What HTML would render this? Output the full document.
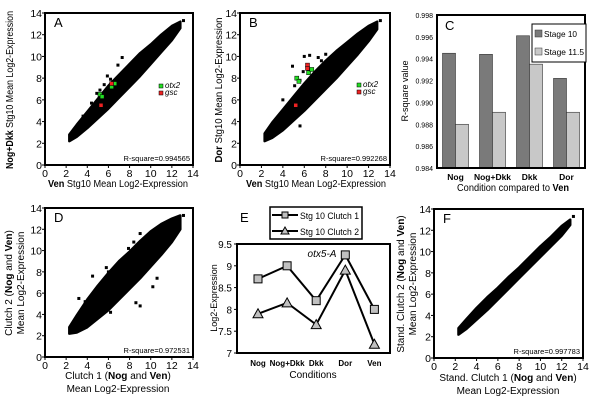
<!DOCTYPE html>
<html><head><meta charset="utf-8">
<style>
html,body{margin:0;padding:0;background:#fff;}
svg{display:block;font-family:"Liberation Sans",Arial,sans-serif;}
</style></head>
<body>
<svg id="fig" width="600" height="410" viewBox="0 0 600 410" xmlns="http://www.w3.org/2000/svg"></svg>
<script>
// ---------- DATA ----------
const aBandX=[2.3,3,4,5,6,7,8,9,10,11,12,12.8];
const aBandLo=[2.2,2.6,3.4,4.3,5.2,6.2,7.2,8.2,9.3,10.4,11.5,12.6];
const aBandHi=[2.8,3.7,4.9,6.1,7.3,8.3,9.3,10.3,11.1,12.0,12.8,13.2];
const aOutX=[3.6,5.2,5.9,6.2,7.3,4.9,6.9,13.1,4.4,5.6];
const aOutY=[4.5,6.9,8.2,7.9,9.9,6.6,9.2,13.3,5.7,7.4];
const aGreenX=[5.2,5.4,6.3,6.6];const aGreenY=[6.5,6.3,7.2,7.5];
const aRedX=[6.3,5.3];const aRedY=[7.5,5.5];

const bBandX=[2.3,3,4,5,6,7,8,9,10,11,12,12.8];
const bBandLo=[2.2,2.5,3.2,4.1,5.0,6.0,7.0,8.0,9.1,10.2,11.4,12.5];
const bBandHi=[2.9,3.9,5.1,6.3,7.5,8.6,9.6,10.5,11.3,12.1,12.8,13.2];
const bOutX=[4.9,5.6,6.0,6.5,7.3,8.0,9.4,10.3,11.0,4.4,5.6,5.1,6.9,8.2,5.9,13.1,4.0,7.6];
const bOutY=[9.1,7.8,10.0,10.1,9.9,10.2,10.4,10.0,10.9,5.0,3.6,7.3,6.2,7.7,8.6,13.3,6.0,9.6];
const bGreenX=[5.3,5.5,6.4,6.7];const bGreenY=[8.0,7.7,8.5,8.8];
const bRedX=[6.3,6.3,5.2];const bRedY=[9.2,8.9,5.5];

const dBandX=[2.3,3,4,5,6,7,8,9,10,11,12,12.8];
const dBandLo=[2.2,2.3,2.8,3.6,4.4,5.4,6.4,7.4,8.5,9.6,10.8,12.0];
const dBandHi=[2.8,3.9,5.4,6.7,7.9,9.0,9.9,10.9,11.8,12.5,13.0,13.3];
const dOutX=[4.5,5.8,6.0,8.4,9.0,4.7,6.2,8.6,9.0,10.2,13.1,3.2,7.9,3.8,10.6];
const dOutY=[7.6,8.4,8.0,10.8,11.6,3.8,4.2,5.1,4.8,6.6,13.3,5.5,10.2,5.2,7.4];

const fBandX=[2.3,3,4,5,6,7,8,9,10,11,12,12.8];
const fBandLo=[2.2,2.7,3.6,4.5,5.5,6.5,7.5,8.5,9.5,10.5,11.5,12.5];
const fBandHi=[2.8,3.6,4.7,5.7,6.6,7.6,8.5,9.5,10.5,11.4,12.4,13.0];
const fOutX=[13.1];const fOutY=[13.3];

const xTicks=[0,2,4,6,8,10,12,14];
const yTicks=[0,2,4,6,8,10,12,14];

const cCats=["Nog","Nog+Dkk","Dkk","Dor"];
const cStage10=[0.9945,0.9944,0.9961,0.9922];
const cStage115=[0.9880,0.9891,0.9935,0.9891];
const cTicks=[0.984,0.986,0.988,0.990,0.992,0.994,0.996,0.998];
const cTickLabels=["0.984","0.986","0.988","0.990","0.992","0.994","0.996","0.998"];

const eCats=["Nog","Nog+Dkk","Dkk","Dor","Ven"];
const eClutch1=[8.7,9.0,8.2,9.25,8.0];
const eClutch2=[7.9,8.15,7.65,8.9,7.2];
const eTicks=[7,7.5,8,8.5,9,9.5];
const eTickLabels=["7","7.5","8","8.5","9","9.5"];

// ---------- DRAW ----------
const NS="http://www.w3.org/2000/svg";
const svg=document.getElementById('fig');
function mk(tag,attrs,parent,text){const e=document.createElementNS(NS,tag);for(const k in attrs)e.setAttribute(k,attrs[k]);if(text!==undefined)e.textContent=text;(parent||svg).appendChild(e);return e;}

function scatter(name,box,bandX,bandLo,bandHi,outX,outY,gX,gY,rX,rY,rsq,letter,legend){
  const g=mk('g',{});
  
  
  const sx=v=>box.x0+(box.x1-box.x0)*v/14, sy=v=>box.y0-(box.y0-box.y1)*v/14;
  let pts=[];
  for(let i=0;i<bandX.length;i++)pts.push(sx(bandX[i])+','+sy(bandLo[i]));
  for(let i=bandX.length-1;i>=0;i--)pts.push(sx(bandX[i])+','+sy(bandHi[i]));
  const band=mk('polygon',{points:pts.join(' '),fill:'#000',stroke:'#000','stroke-width':2.5,'stroke-linejoin':'round'},g);
  
  
  for(let i=0;i<outX.length;i++){
    const r=mk('rect',{x:sx(outX[i])-1.5,y:sy(outY[i])-1.5,width:3,height:3,fill:'#000'},g);
    
    
  }
  if(gX){for(let i=0;i<gX.length;i++){
    const r=mk('rect',{x:sx(gX[i])-2,y:sy(gY[i])-2,width:4,height:4,fill:'#22dd22',stroke:'#000','stroke-width':0.5},g);
    
    
  }}
  if(rX){for(let i=0;i<rX.length;i++){
    const r=mk('rect',{x:sx(rX[i])-2,y:sy(rY[i])-2,width:4,height:4,fill:'#ee2222',stroke:'#000','stroke-width':0.5},g);
    
    
  }}
  const fr=mk('rect',{x:box.x0,y:box.y1,width:box.x1-box.x0,height:box.y0-box.y1,fill:'none',stroke:'#000','stroke-width':2},g);
  
  
  xTicks.forEach((t)=>{
    mk('line',{x1:sx(t),x2:sx(t),y1:box.y0,y2:box.y0+3,stroke:'#000'},g);
    const tx=mk('text',{x:sx(t),y:box.y0+12,'font-size':10.5,'text-anchor':'middle'},g,String(t));
    
    
  });
  yTicks.forEach((t)=>{
    mk('line',{x1:box.x0-3,x2:box.x0,y1:sy(t),y2:sy(t),stroke:'#000'},g);
    const tx=mk('text',{x:box.x0-3,y:sy(t)+4,'font-size':10.5,'text-anchor':'end'},g,String(t));
    
    
  });
  const rs=mk('text',{x:box.x1-3,y:box.y0-4,'font-size':7.5,'text-anchor':'end'},g,'R-square='+rsq);
  
  
  const lt=mk('text',{x:box.x0+9,y:box.y1+14,'font-size':13},g,letter);
  
  
  if(legend){
    const lg=mk('g',{},g);
    
    
    mk('rect',{x:legend[0],y:legend[1]-4,width:4,height:4,fill:'#22dd22',stroke:'#000','stroke-width':0.5},lg);
    mk('text',{x:legend[0]+6,y:legend[1],'font-size':8,'font-style':'italic'},lg,'otx2');
    mk('rect',{x:legend[0],y:legend[1]+3,width:4,height:4,fill:'#ee2222',stroke:'#000','stroke-width':0.5},lg);
    mk('text',{x:legend[0]+6,y:legend[1]+7,'font-size':8,'font-style':'italic'},lg,'gsc');
  }
  return g;
}
function rotText(x,y,lines,name,size,len){
  const a={transform:`translate(${x},${y}) rotate(-90)`,'font-size':size||10,'text-anchor':'middle'};
  if(len){a.textLength=len;a.lengthAdjust='spacingAndGlyphs';}
  const t=mk('text',a);
  
  
  t.innerHTML=lines;return t;
}
function hText(x,y,html,name,size,len){
  const a={x:x,y:y,'font-size':size||10,'text-anchor':'middle'};
  if(len){a.textLength=len;a.lengthAdjust='spacingAndGlyphs';}
  const t=mk('text',a);
  
  
  t.innerHTML=html;return t;
}

// Panel A
scatter('panel-a-scatter',{x0:45,x1:193,y0:165,y1:13},aBandX,aBandLo,aBandHi,aOutX,aOutY,aGreenX,aGreenY,aRedX,aRedY,'0.994565','A',[159,88]);
rotText(13,90,'<tspan font-weight="bold">Nog+Dkk</tspan> Stg10 Mean Log2-Expression','panel-a-y-title',10,158);
hText(118,187,'<tspan font-weight="bold">Ven</tspan> Stg10 Mean Log2-Expression','panel-a-x-title',10,140);
// Panel B
scatter('panel-b-scatter',{x0:240,x1:390,y0:165,y1:13},bBandX,bBandLo,bBandHi,bOutX,bOutY,bGreenX,bGreenY,bRedX,bRedY,'0.992268','B',[357,87]);
rotText(222,90,'<tspan font-weight="bold">Dor</tspan> Stg10 Mean Log2-Expression','panel-b-y-title',10,145);
hText(316,187,'<tspan font-weight="bold">Ven</tspan> Stg10 Mean Log2-Expression','panel-b-x-title',10,140);
// Panel D
scatter('panel-d-scatter',{x0:45,x1:193,y0:357,y1:208},dBandX,dBandLo,dBandHi,dOutX,dOutY,null,null,null,null,'0.972531','D',null);
rotText(12,283,'Clutch 2 (<tspan font-weight="bold">Nog</tspan> and <tspan font-weight="bold">Ven</tspan>)','panel-d-y-title',10);
rotText(24,283,'Mean Log2-Expression','panel-d-y-title-2',10);
hText(118,379,'Clutch 1 (<tspan font-weight="bold">Nog</tspan> and <tspan font-weight="bold">Ven</tspan>)','panel-d-x-title',10);
hText(118,392,'Mean Log2-Expression','panel-d-x-title-2',10);
// Panel F
scatter('panel-f-scatter',{x0:434,x1:583,y0:358,y1:209},fBandX,fBandLo,fBandHi,fOutX,fOutY,null,null,null,null,'0.997783','F',null);
rotText(404,284,'Stand. Clutch 2 (<tspan font-weight="bold">Nog</tspan> and <tspan font-weight="bold">Ven</tspan>)','panel-f-y-title',10);
rotText(416,284,'Mean Log2-Expression','panel-f-y-title-2',10);
hText(508,381,'Stand. Clutch 1 (<tspan font-weight="bold">Nog</tspan> and <tspan font-weight="bold">Ven</tspan>)','panel-f-x-title',10);
hText(508,394,'Mean Log2-Expression','panel-f-x-title-2',10);

// Panel C bars
(function(){
  const g=mk('g',{});
  
  
  const x0=437,x1=585,yTop=15,yBot=168,vMin=0.984,vMax=0.998;
  const sy=v=>yBot-(yBot-yTop)*(v-vMin)/(vMax-vMin);
  const gw=(x1-x0)/cCats.length, bw=13;
  cCats.forEach((c,i)=>{
    const cx=x0+gw*(i+0.5);
    const b1=mk('rect',{x:cx-bw,y:sy(cStage10[i]),width:bw,height:yBot-sy(cStage10[i]),fill:'#7a7a7a',stroke:'#333','stroke-width':0.6},g);
    
    
    const b2=mk('rect',{x:cx,y:sy(cStage115[i]),width:bw,height:yBot-sy(cStage115[i]),fill:'#c8c8c8',stroke:'#333','stroke-width':0.6},g);
    
    
    const t=mk('text',{x:cx,y:yBot+12,'font-size':8.5,'font-weight':'bold','text-anchor':'middle'},g,c);
    
    
  });
  cTicks.forEach((v,i)=>{
    const t=mk('text',{x:x0-4,y:sy(v)+3,'font-size':7,'text-anchor':'end'},g,cTickLabels[i]);
    
    
  });
  const fr=mk('rect',{x:x0,y:yTop,width:x1-x0,height:yBot-yTop,fill:'none',stroke:'#000','stroke-width':2},g);
  
  
  const lt=mk('text',{x:x0+8,y:yTop+15,'font-size':13},g,'C');
  
  
  const lg=mk('g',{},g);
  
  
  mk('rect',{x:532,y:24,width:54,height:38,fill:'#fff',stroke:'#000','stroke-width':1},lg);
  mk('rect',{x:535,y:30,width:7,height:7,fill:'#7a7a7a',stroke:'#333','stroke-width':0.5},lg);
  mk('text',{x:544,y:37,'font-size':8.5,textLength:33,lengthAdjust:'spacingAndGlyphs'},lg,'Stage 10');
  mk('rect',{x:535,y:48,width:7,height:7,fill:'#c8c8c8',stroke:'#333','stroke-width':0.5},lg);
  mk('text',{x:544,y:55,'font-size':8.5,textLength:40,lengthAdjust:'spacingAndGlyphs'},lg,'Stage 11.5');
})();
rotText(408,91,'R-square value','panel-c-y-title',9);
hText(513,191,'Condition compared to <tspan font-weight="bold">Ven</tspan>','panel-c-x-title',10,112);

// Panel E lines
(function(){
  const g=mk('g',{});
  
  
  const x0=237,x1=390,yTop=244,yBot=353,vMin=7,vMax=9.5;
  const sy=v=>yBot-(yBot-yTop)*(v-vMin)/(vMax-vMin);
  const sx=i=>258+i*29.1;
  const fr=mk('rect',{x:x0,y:yTop,width:x1-x0,height:yBot-yTop,fill:'none',stroke:'#000','stroke-width':2},g);
  
  
  eTicks.forEach((v,i)=>{
    mk('line',{x1:x0-3,x2:x0,y1:sy(v),y2:sy(v),stroke:'#000'},g);
    const t=mk('text',{x:x0-5,y:sy(v)+4,'font-size':10,'text-anchor':'end'},g,eTickLabels[i]);
    
    
  });
  eCats.forEach((c,i)=>{
    const t=mk('text',{x:sx(i),y:366,'font-size':8,'font-weight':'bold','text-anchor':'middle'},g,c);
    
    
  });
  const l1=mk('polyline',{points:eClutch1.map((v,i)=>sx(i)+','+sy(v)).join(' '),fill:'none',stroke:'#000','stroke-width':2},g);
  
  
  const l2=mk('polyline',{points:eClutch2.map((v,i)=>sx(i)+','+sy(v)).join(' '),fill:'none',stroke:'#000','stroke-width':2},g);
  
  
  eClutch1.forEach((v,i)=>{
    const m=mk('rect',{x:sx(i)-4,y:sy(v)-4,width:8,height:8,fill:'#c0c0c0',stroke:'#000','stroke-width':1},g);
    
    
  });
  eClutch2.forEach((v,i)=>{
    const x=sx(i),y=sy(v);
    const m=mk('polygon',{points:`${x},${y-5} ${x+5},${y+4} ${x-5},${y+4}`,fill:'#c0c0c0',stroke:'#000','stroke-width':1},g);
    
    
  });
  const tt=mk('text',{x:322,y:257,'font-size':10,'font-style':'italic','text-anchor':'middle'},g,'otx5-A');
  
  
  const lt=mk('text',{x:240,y:222,'font-size':13},g,'E');
  
  
  const lg=mk('g',{},g);
  
  
  mk('rect',{x:270,y:207,width:92,height:32,fill:'#fff',stroke:'#000','stroke-width':1.5},lg);
  mk('line',{x1:272,x2:298,y1:215,y2:215,stroke:'#000','stroke-width':2},lg);
  mk('rect',{x:282,y:212,width:6,height:6,fill:'#c0c0c0',stroke:'#000'},lg);
  mk('text',{x:300,y:219,'font-size':9,textLength:59,lengthAdjust:'spacingAndGlyphs'},lg,'Stg 10 Clutch 1');
  mk('line',{x1:272,x2:298,y1:231,y2:231,stroke:'#000','stroke-width':2},lg);
  mk('polygon',{points:'285,227 289,234 281,234',fill:'#c0c0c0',stroke:'#000'},lg);
  mk('text',{x:300,y:235,'font-size':9,textLength:59,lengthAdjust:'spacingAndGlyphs'},lg,'Stg 10 Clutch 2');
})();
rotText(217,298,'Log2-Expression','panel-e-y-title',9);
hText(313,378,'Conditions','panel-e-x-title',10);
</script>
</body></html>
